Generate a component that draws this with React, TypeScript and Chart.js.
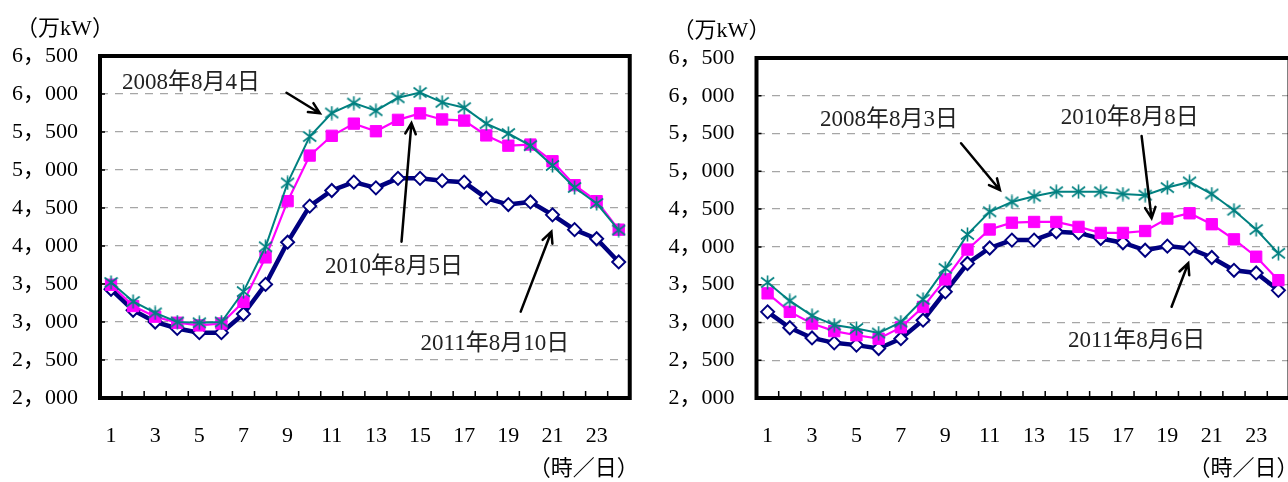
import React, { useEffect, useRef } from 'react';
import { Chart, registerables } from 'chart.js';

Chart.register(...registerables);

// ---------- data ----------
const hours = ['1', '2', '3', '4', '5', '6', '7', '8', '9', '10', '11', '12', '13', '14', '15', '16', '17', '18', '19', '20', '21', '22', '23', '24'];

const yMin = 2000;
const yMax = 6500;
const yStep = 500;

// left panel
const left2008 = [3520, 3270, 3120, 3000, 2990, 3000, 3400, 3990, 4830, 5440, 5750, 5880, 5780, 5950, 6020, 5890, 5820, 5610, 5480, 5320, 5060, 4770, 4560, 4210];
const left2010 = [3490, 3210, 3070, 2990, 2955, 2980, 3265, 3850, 4590, 5190, 5450, 5610, 5510, 5660, 5745, 5665, 5650, 5455, 5320, 5335, 5115, 4800, 4590, 4215];
const left2011 = [3430, 3155, 3000, 2915, 2860, 2860, 3105, 3495, 4050, 4525, 4730, 4840, 4765, 4890, 4890, 4860, 4840, 4630, 4545, 4580, 4410, 4215, 4095, 3790];
const leftNames = ['2008年8月4日', '2010年8月5日', '2011年8月10日'];

// right panel
const right2008 = [3530, 3285, 3090, 2965, 2920, 2860, 3005, 3305, 3715, 4165, 4465, 4595, 4670, 4730, 4730, 4730, 4700, 4685, 4785, 4860, 4700, 4485, 4230, 3915];
const right2010 = [3385, 3140, 2985, 2885, 2830, 2785, 2935, 3205, 3570, 3965, 4230, 4320, 4330, 4330, 4265, 4185, 4185, 4210, 4375, 4445, 4300, 4100, 3870, 3560];
const right2011 = [3140, 2930, 2795, 2730, 2700, 2655, 2785, 3030, 3405, 3780, 3985, 4090, 4090, 4200, 4185, 4110, 4055, 3955, 4010, 3980, 3860, 3690, 3655, 3425];
const rightNames = ['2008年8月3日', '2010年8月8日', '2011年8月6日'];

const unitY = '（万kW）';
const unitX = '（時／日）';

// annotation anchors in data space (category index, value)
const leftNotes = [
  { xi: 0.5, yv: 6140 },
  { xi: 9.69, yv: 3724 },
  { xi: 14.02, yv: 2711 },
];
const leftArrows = [
  { x1: 7.95, y1: 6017, x2: 9.46, y2: 5746 },
  { x1: 13.16, y1: 4057, x2: 13.61, y2: 5618 },
  { x1: 18.56, y1: 3136, x2: 19.95, y2: 4188 },
];
const rightNotes = [
  { xi: 2.36, yv: 5679 },
  { xi: 13.2, yv: 5713 },
  { xi: 13.53, yv: 2755 },
];
const rightArrows = [
  { x1: 8.71, y1: 5371, x2: 10.46, y2: 4753 },
  { x1: 16.84, y1: 5468, x2: 17.29, y2: 4379 },
  { x1: 18.19, y1: 3208, x2: 18.94, y2: 3783 },
];

// ---------- styling ----------
const FONT = "'Liberation Serif', 'Noto Sans CJK JP', serif";
const TEAL = '#008080';
const MAGENTA = '#FF00FF';
const NAVY = '#000080';

function fmt(v: number) {
  const s = String(v);
  return s.slice(0, -3) + '，' + s.slice(-3);
}

function makeStar() {
  const c = document.createElement('canvas');
  c.width = 15;
  c.height = 15;
  const g = c.getContext('2d')!;
  g.strokeStyle = TEAL;
  g.lineWidth = 1.6;
  g.beginPath();
  g.moveTo(7.5, 0.5); g.lineTo(7.5, 14.5);
  g.moveTo(1, 2.5); g.lineTo(14, 12.5);
  g.moveTo(1, 12.5); g.lineTo(14, 2.5);
  g.stroke();
  return c;
}

const framePlugin = {
  id: 'frame',
  afterDatasetsDraw(chart: any, _args: any, opts: any) {
    const { ctx, chartArea: a, scales } = chart;
    const xs = scales.x;
    const ys = scales.y;
    ctx.save();
    ctx.strokeStyle = '#000';
    ctx.lineWidth = 1.5;
    ctx.beginPath();
    for (let i = 1; i < xs.ticks.length; i++) {
      const px = (xs.getPixelForValue(i - 1) + xs.getPixelForValue(i)) / 2;
      ctx.moveTo(px, a.bottom);
      ctx.lineTo(px, a.bottom - 7);
    }
    for (const t of ys.ticks) {
      const py = ys.getPixelForValue(t.value);
      ctx.moveTo(a.left, py);
      ctx.lineTo(a.left + 5, py);
    }
    ctx.stroke();

    ctx.lineWidth = 4;
    ctx.strokeRect(a.left, a.top, a.right - a.left, a.bottom - a.top);

    // annotations
    ctx.fillStyle = '#222';
    ctx.font = `23px ${FONT}`;
    ctx.textAlign = 'left';
    ctx.textBaseline = 'middle';
    (opts.notes || []).forEach((n: any, i: number) => {
      ctx.fillText(opts.names[i], xs.getPixelForValue(n.xi), ys.getPixelForValue(n.yv));
    });
    ctx.strokeStyle = '#000';
    ctx.lineWidth = 2.5;
    ctx.lineCap = 'round';
    (opts.arrows || []).forEach((r: any) => {
      const x1 = xs.getPixelForValue(r.x1), y1 = ys.getPixelForValue(r.y1);
      const x2 = xs.getPixelForValue(r.x2), y2 = ys.getPixelForValue(r.y2);
      const ang = Math.atan2(y2 - y1, x2 - x1);
      const L = 12, w = 0.45;
      ctx.beginPath();
      ctx.moveTo(x1, y1);
      ctx.lineTo(x2, y2);
      ctx.moveTo(x2 - L * Math.cos(ang - w), y2 - L * Math.sin(ang - w));
      ctx.lineTo(x2, y2);
      ctx.lineTo(x2 - L * Math.cos(ang + w), y2 - L * Math.sin(ang + w));
      ctx.stroke();
    });

    // unit labels
    ctx.fillStyle = '#000';
    ctx.font = `22px ${FONT}`;
    ctx.textAlign = 'center';
    ctx.fillText(unitY, a.left - 35, a.top - 27);
    ctx.fillText(unitX, a.right - 46, a.bottom + 71);
    ctx.restore();
  },
};

type PanelProps = {
  left: number;
  width: number;
  areaLeft: number;
  areaRight: number;
  areaTop: number;
  areaBottom: number;
  s2008: number[];
  s2010: number[];
  s2011: number[];
  names: string[];
  notes: any[];
  arrows: any[];
};

function Panel(p: PanelProps) {
  const ref = useRef<HTMLCanvasElement>(null);
  useEffect(() => {
    const star = makeStar();
    const chart = new Chart(ref.current!, {
      type: 'line',
      data: {
        labels: hours,
        datasets: [
          {
            label: p.names[0],
            data: p.s2008,
            borderColor: TEAL,
            backgroundColor: TEAL,
            borderWidth: 2,
            pointStyle: star as any,
            pointRadius: 7,
            tension: 0,
          },
          {
            label: p.names[1],
            data: p.s2010,
            borderColor: MAGENTA,
            backgroundColor: MAGENTA,
            borderWidth: 2.2,
            pointStyle: 'rect',
            pointRadius: 8,
            pointBackgroundColor: MAGENTA,
            pointBorderColor: MAGENTA,
            pointBorderWidth: 1,
            tension: 0,
          },
          {
            label: p.names[2],
            data: p.s2011,
            borderColor: NAVY,
            backgroundColor: NAVY,
            borderWidth: 4.5,
            pointStyle: 'rectRot',
            pointRadius: 6.5,
            pointBackgroundColor: '#ffffff',
            pointBorderColor: NAVY,
            pointBorderWidth: 2,
            tension: 0,
          },
        ],
      },
      options: {
        animation: false,
        responsive: false,
        events: [],
        layout: { padding: { left: 0, top: p.areaTop, right: p.width - p.areaRight, bottom: 0 } },
        plugins: {
          legend: { display: false },
          tooltip: { enabled: false },
          frame: { names: p.names, notes: p.notes, arrows: p.arrows },
        } as any,
        scales: {
          x: {
            type: 'category',
            offset: true,
            grid: { display: false, drawTicks: false },
            border: { display: false },
            ticks: {
              autoSkip: false,
              maxRotation: 0,
              padding: 25,
              color: '#000',
              font: { family: FONT, size: 22 },
              callback: (_v: any, i: number) => (i % 2 === 0 ? hours[i] : ''),
            },
            afterFit: (s: any) => {
              s.height = 482 - p.areaBottom;
            },
          },
          y: {
            min: yMin,
            max: yMax,
            grid: { color: '#a6a6a6', lineWidth: 1.3, drawTicks: false },
            border: { display: false, dash: [8, 7] },
            ticks: {
              stepSize: yStep,
              padding: 22,
              color: '#000',
              font: { family: FONT, size: 22 },
              callback: (v: any) => fmt(Number(v)),
            },
            afterFit: (s: any) => {
              s.width = p.areaLeft;
            },
          },
        },
      },
      plugins: [framePlugin as any],
    });
    return () => chart.destroy();
  }, []);
  return (
    <canvas
      ref={ref}
      width={p.width}
      height={482}
      style={{ position: 'absolute', left: p.left, top: 0, width: p.width, height: 482 }}
    />
  );
}

export default function App() {
  return (
    <div style={{ position: 'absolute', left: 0, top: 0, width: 1288, height: 482, overflow: 'hidden', background: '#fff' }}>
      <Panel
        left={0}
        width={644}
        areaLeft={100}
        areaRight={630}
        areaTop={56}
        areaBottom={398}
        s2008={left2008}
        s2010={left2010}
        s2011={left2011}
        names={leftNames}
        notes={leftNotes}
        arrows={leftArrows}
      />
      <Panel
        left={644}
        width={660}
        areaLeft={112.5}
        areaRight={645.5}
        areaTop={58}
        areaBottom={398}
        s2008={right2008}
        s2010={right2010}
        s2011={right2011}
        names={rightNames}
        notes={rightNotes}
        arrows={rightArrows}
      />
    </div>
  );
}
